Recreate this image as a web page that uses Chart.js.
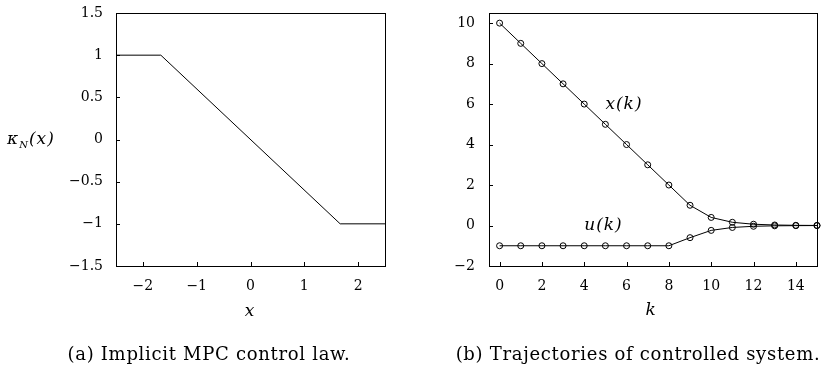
<!DOCTYPE html>
<html>
<head>
<meta charset="utf-8">
<script src="https://cdn.jsdelivr.net/npm/chart.js@4.4.0/dist/chart.umd.min.js"></script>
<style>
  body { margin: 0; background: #fff; }
  #wrap { position: relative; width: 828px; height: 372px; font-family: "DejaVu Serif", serif; color: #000; }
  .pane { position: absolute; top: 0; width: 414px; height: 372px; }
  .txt { position: absolute; white-space: nowrap; line-height: 1; }
  .it { font-style: italic; }
  .cap { font-size: 18px; letter-spacing: 0.7px; transform: translateX(-50%); }
</style>
</head>
<body>
<div id="wrap">
  <div class="pane" style="left:0"><canvas id="lawChart" width="414" height="372"></canvas></div>
  <div class="pane" style="left:414px"><canvas id="trajChart" width="414" height="372"></canvas></div>

  <div class="txt it" style="left:7px;top:130px;font-size:17px;letter-spacing:1px">&kappa;<sub style="font-size:10px">N</sub>(x)</div>
  <div class="txt it cap" style="left:250px;top:302px;font-size:17px">x</div>
  <div class="txt it cap" style="left:651px;top:301px;font-size:17px">k</div>
  <div class="txt cap" style="left:209px;top:345px">(a) Implicit MPC control law.</div>
  <div class="txt cap" style="left:638px;top:345px">(b) Trajectories of controlled system.</div>
</div>
<script>
// (a) saturated control law
var lawX = [-2.5, -1.667, 1.667, 2.5];
var lawY = [1, 1, -1, -1];
var lawXTicks = [-2, -1, 0, 1, 2];
var lawYTicks = [-1.5, -1, -0.5, 0, 0.5, 1, 1.5];

// (b) closed loop trajectories
var steps = [0, 1, 2, 3, 4, 5, 6, 7, 8, 9, 10, 11, 12, 13, 14, 15];
var stateX = [10, 9, 8, 7, 6, 5, 4, 3, 2, 1, 0.4, 0.16, 0.064, 0.026, 0.01, 0.004];
var inputU = [-1, -1, -1, -1, -1, -1, -1, -1, -1, -0.6, -0.24, -0.096, -0.038, -0.015, -0.006, -0.002];
var stepTicks = [0, 2, 4, 6, 8, 10, 12, 14];
var trajYTicks = [-2, 0, 2, 4, 6, 8, 10];

Chart.defaults.font.family = '"DejaVu Serif", serif';
Chart.defaults.font.size = 14;
Chart.defaults.color = '#000';
Chart.defaults.animation = false;

function fmt(v) {
  return v < 0 ? '\u2212' + Math.abs(v) : '' + v;
}

function pairs(xs, ys) {
  return xs.map(function(x, i) { return { x: x, y: ys[i] }; });
}

// box around the plot plus short ticks pointing inwards
var frame = {
  id: 'frame',
  afterDraw: function(chart) {
    var ctx = chart.ctx, a = chart.chartArea;
    var sx = chart.scales.x, sy = chart.scales.y;
    ctx.save();
    ctx.strokeStyle = '#000';
    ctx.lineWidth = 1;
    ctx.strokeRect(Math.round(a.left) + 0.5, Math.round(a.top) + 0.5,
      Math.round(a.right - a.left), Math.round(a.bottom - a.top));
    ctx.beginPath();
    sx.ticks.forEach(function(t) {
      var px = Math.round(sx.getPixelForValue(t.value)) + 0.5;
      ctx.moveTo(px, a.bottom);
      ctx.lineTo(px, a.bottom - 4);
    });
    sy.ticks.forEach(function(t) {
      var py = Math.round(sy.getPixelForValue(t.value)) + 0.5;
      ctx.moveTo(a.left, py);
      ctx.lineTo(a.left + 4, py);
    });
    ctx.stroke();
    ctx.restore();
  }
};

// curve names written next to the lines
var curveNames = {
  id: 'curveNames',
  afterDatasetsDraw: function(chart, args, opts) {
    if (!opts.items) return;
    var ctx = chart.ctx;
    ctx.save();
    ctx.fillStyle = '#000';
    ctx.font = 'italic 17px "DejaVu Serif", serif';
    ctx.letterSpacing = '1px';
    ctx.textBaseline = 'middle';
    ctx.textAlign = 'left';
    opts.items.forEach(function(it) {
      ctx.fillText(it.text, chart.scales.x.getPixelForValue(it.x), chart.scales.y.getPixelForValue(it.y));
    });
    ctx.restore();
  }
};

function axis(min, max, ticks, width, height, pad) {
  var s = {
    type: 'linear', min: min, max: max,
    grid: { display: false, drawTicks: false },
    border: { display: false },
    ticks: { padding: pad, autoSkip: false, maxRotation: 0, callback: function(v) { return fmt(v); } },
    afterBuildTicks: function(sc) { sc.ticks = ticks.map(function(v) { return { value: v }; }); }
  };
  if (width) s.afterFit = function(sc) { sc.width = width; sc.paddingTop = 0; sc.paddingBottom = 0; };
  if (height) s.afterFit = function(sc) { sc.height = height; sc.paddingLeft = 0; sc.paddingRight = 0; };
  return s;
}

new Chart(document.getElementById('lawChart'), {
  type: 'scatter',
  data: {
    datasets: [{
      data: pairs(lawX, lawY),
      showLine: true,
      borderColor: '#000',
      borderWidth: 1,
      pointRadius: 0
    }]
  },
  options: {
    responsive: false,
    layout: { padding: { left: 0, right: 29, top: 13, bottom: 0 } },
    plugins: { legend: { display: false }, tooltip: { enabled: false } },
    scales: {
      x: axis(-2.5, 2.5, lawXTicks, 0, 106, 12),
      y: axis(-1.5, 1.5, lawYTicks, 116, 0, 13)
    }
  },
  plugins: [frame]
});

new Chart(document.getElementById('trajChart'), {
  type: 'scatter',
  data: {
    datasets: [{
      data: pairs(steps, stateX),
      showLine: true,
      borderColor: '#000',
      borderWidth: 1,
      pointRadius: 3,
      pointBorderWidth: 1,
      pointBackgroundColor: 'rgba(0,0,0,0)',
      pointBorderColor: '#000',
      clip: false
    }, {
      data: pairs(steps, inputU),
      showLine: true,
      borderColor: '#000',
      borderWidth: 1,
      pointRadius: 3,
      pointBorderWidth: 1,
      pointBackgroundColor: 'rgba(0,0,0,0)',
      pointBorderColor: '#000',
      clip: false
    }]
  },
  options: {
    responsive: false,
    layout: { padding: { left: 0, right: 11, top: 13, bottom: 0 } },
    plugins: {
      legend: { display: false },
      tooltip: { enabled: false },
      curveNames: { items: [{ text: 'x(k)', x: 5, y: 6 }, { text: 'u(k)', x: 4, y: 0 }] }
    },
    scales: {
      x: axis(-0.5, 15, stepTicks, 0, 106, 12),
      y: axis(-2, 10.5, trajYTicks, 75, 0, 14)
    }
  },
  plugins: [frame, curveNames]
});
</script>
</body>
</html>
